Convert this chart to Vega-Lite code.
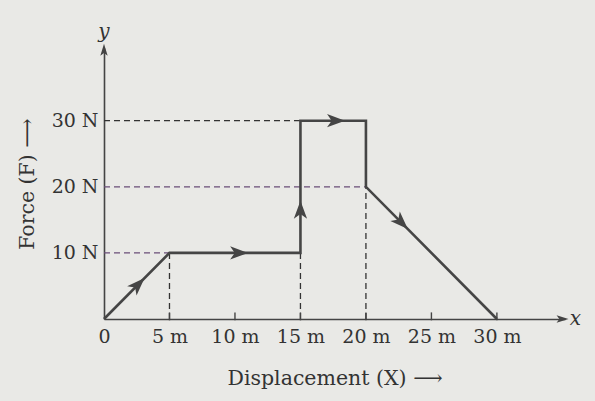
{
  "$schema": "https://vega.github.io/schema/vega-lite/v6.json",
  "autosize": {"type": "none"},
  "padding": {"left": 104, "top": 48, "right": 30, "bottom": 82},
  "width": 461,
  "height": 271,
  "background": "#e9e9e6",
  "config": {
    "view": {"stroke": null},
    "axis": {"grid": false, "ticks": false, "domainColor": "#444444", "domainWidth": 1.6, "labelFlush": false, "labelOverlap": false,
      "labelFont": "DejaVu Serif", "labelFontSize": 19, "labelColor": "#333333",
      "titleFont": "DejaVu Serif", "titleFontSize": 20.5, "titleFontWeight": "normal", "titleColor": "#333333"}
  },
  "datasets": {
    "dashes": [
      {"x": 0, "y": 10, "x2": 5, "y2": 10, "kind": "purple"},
      {"x": 0, "y": 20, "x2": 20, "y2": 20, "kind": "purple"},
      {"x": 0, "y": 30, "x2": 15, "y2": 30, "kind": "black"},
      {"x": 5, "y": 0, "x2": 5, "y2": 10, "kind": "black"},
      {"x": 15, "y": 0, "x2": 15, "y2": 10, "kind": "black"},
      {"x": 20, "y": 0, "x2": 20, "y2": 20, "kind": "black"}
    ],
    "path": [
      {"step": 1, "x": 0, "y": 0},
      {"step": 2, "x": 5, "y": 10},
      {"step": 3, "x": 15, "y": 10},
      {"step": 4, "x": 15, "y": 30},
      {"step": 5, "x": 20, "y": 30},
      {"step": 6, "x": 20, "y": 20},
      {"step": 7, "x": 30, "y": 0}
    ],
    "heads": [
      {"x": 2.6, "y": 5.2, "angle": 45},
      {"x": 10.3, "y": 10, "angle": 90},
      {"x": 15, "y": 16.5, "angle": 0},
      {"x": 17.7, "y": 30, "angle": 90},
      {"x": 22.7, "y": 14.6, "angle": 135}
    ],
    "ticks": [{"x": 5}, {"x": 10}, {"x": 15}, {"x": 20}, {"x": 25}, {"x": 30}],
    "axisHeads": [
      {"x": 35.0, "y": 0, "angle": 90},
      {"x": 0, "y": 40.7, "angle": 0}
    ],
    "letters": [
      {"x": 0, "y": 43.4, "t": "y"},
      {"x": 36.0, "y": 0, "t": "x"}
    ]
  },
  "layer": [
    {
      "data": {"name": "dashes"},
      "mark": {"type": "rule", "strokeDash": [6, 4], "strokeWidth": 1.3},
      "encoding": {
        "x": {"field": "x", "type": "quantitative", "scale": {"domain": [0, 35.2], "nice": false, "zero": false},
          "axis": {"values": [0, 5, 10, 15, 20, 25, 30], "labelExpr": "datum.value == 0 ? '0  ' : datum.value + ' m'",
            "labelPadding": 8, "title": "Displacement (X) ⟶", "titlePadding": 22}},
        "y": {"field": "y", "type": "quantitative", "scale": {"domain": [0, 41], "nice": false, "zero": false},
          "axis": {"values": [10, 20, 30], "labelExpr": "datum.value + ' N'", "labelPadding": 6,
            "title": "Force (F) ⟶", "titlePadding": 14}},
        "x2": {"field": "x2"},
        "y2": {"field": "y2"},
        "color": {"field": "kind", "type": "nominal", "scale": {"domain": ["purple", "black"], "range": ["#6a4d78", "#333333"]}, "legend": null}
      }
    },
    {
      "data": {"name": "path"},
      "mark": {"type": "line", "color": "#454545", "strokeWidth": 2.6, "strokeJoin": "miter"},
      "encoding": {
        "x": {"field": "x", "type": "quantitative"},
        "y": {"field": "y", "type": "quantitative"},
        "order": {"field": "step", "type": "quantitative"}
      }
    },
    {
      "data": {"name": "ticks"},
      "mark": {"type": "rule", "color": "#444444", "strokeWidth": 1.4},
      "encoding": {
        "x": {"field": "x", "type": "quantitative"},
        "y": {"datum": -0.2, "type": "quantitative"},
        "y2": {"datum": 1.0}
      }
    },
    {
      "data": {"name": "heads"},
      "mark": {"type": "point", "filled": true, "opacity": 1, "color": "#454545", "size": 340,
        "shape": "M0,-1 L0.72,0.95 L0,0.45 L-0.72,0.95 Z"},
      "encoding": {
        "x": {"field": "x", "type": "quantitative"},
        "y": {"field": "y", "type": "quantitative"},
        "angle": {"field": "angle", "type": "quantitative", "scale": null}
      }
    },
    {
      "data": {"name": "axisHeads"},
      "mark": {"type": "point", "filled": true, "opacity": 1, "color": "#444444", "size": 150,
        "shape": "M0,-1 L0.6,0.95 L0,0.5 L-0.6,0.95 Z"},
      "encoding": {
        "x": {"field": "x", "type": "quantitative"},
        "y": {"field": "y", "type": "quantitative"},
        "angle": {"field": "angle", "type": "quantitative", "scale": null}
      }
    },
    {
      "data": {"name": "letters"},
      "mark": {"type": "text", "font": "DejaVu Serif", "fontStyle": "italic", "fontSize": 20, "color": "#333333", "align": "center", "baseline": "middle"},
      "encoding": {
        "x": {"field": "x", "type": "quantitative"},
        "y": {"field": "y", "type": "quantitative"},
        "text": {"field": "t"}
      }
    }
  ]
}
